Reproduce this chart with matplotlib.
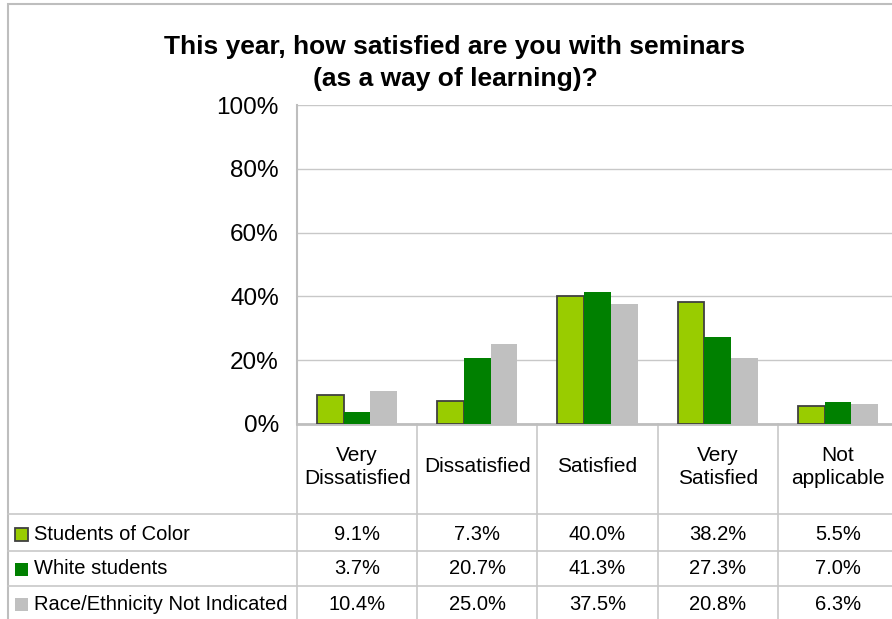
import numpy as np
import matplotlib.pyplot as plt
import matplotlib.transforms as mtransforms
from matplotlib.patches import Rectangle
from matplotlib.lines import Line2D

plt.rcParams['font.family'] = ['Liberation Sans', 'DejaVu Sans']

# Dữ liệu
categories = ["Very\nDissatisfied", "Dissatisfied", "Satisfied", "Very\nSatisfied", "Not\napplicable"]
series_names = ["Students of Color", "White students", "Race/Ethnicity Not Indicated"]
students_of_color = [9.1, 7.3, 40.0, 38.2, 5.5]
white_students = [3.7, 20.7, 41.3, 27.3, 7.0]
not_indicated = [10.4, 25.0, 37.5, 20.8, 6.3]
y_ticks = [0, 20, 40, 60, 80, 100]

colors = ["#99CC00", "#008000", "#C0C0C0"]
edges = ["#404040", "none", "none"]
W, H = 892, 619


def fx(px):
  return px / W


def fy(py):
  return 1 - py / H


fig = plt.figure(figsize=(W / 100, H / 100), dpi=100)

# Khung ngoài
fig.add_artist(Rectangle((fx(8), fy(640)), fx(900 - 8), fy(4) - fy(640),
                         transform=fig.transFigure, fill=False, edgecolor="#BEBEBE", lw=1.5))

# Trục chính
ax = fig.add_axes([fx(297), fy(424), fx(898 - 297), fy(105) - fy(424)])
x = np.arange(len(categories))
bw = 0.222
all_series = [students_of_color, white_students, not_indicated]
for i, vals in enumerate(all_series):
  ax.bar(x + (i - 1) * bw, vals, bw, color=colors[i], edgecolor=edges[i],
         linewidth=1.3 if i == 0 else 0, zorder=3)

ax.set_xlim(-0.5, len(categories) - 0.5)
ax.set_ylim(0, 100)
ax.set_yticks(y_ticks)
ax.set_yticklabels([f"{t}%" for t in y_ticks], fontsize=17.5)
ax.tick_params(axis='y', length=0, pad=13)
ax.set_xticks([])
ax.grid(axis='y', color="#C8C8C8", lw=1, zorder=0)
for s in ["top", "right"]:
  ax.spines[s].set_visible(False)
ax.spines["left"].set_color("#BEBEBE")
ax.spines["left"].set_linewidth(1.5)
ax.spines["bottom"].set_color("#BEBEBE")
ax.spines["bottom"].set_linewidth(2)

# Tiêu đề
fig.text(fx(455), fy(63), "This year, how satisfied are you with seminars\n(as a way of learning)?",
         ha="center", va="center", fontsize=19, fontweight="bold", linespacing=1.42)

# Bảng dữ liệu
tr = mtransforms.blended_transform_factory(ax.transData, fig.transFigure)
grid_c = "#C8C8C8"
row_lines = [514, 551, 586]
for ry in row_lines:
  fig.add_artist(Line2D([fx(8), fx(900)], [fy(ry), fy(ry)], transform=fig.transFigure,
                        color=grid_c, lw=1.2))
for b in np.arange(len(categories) + 1) - 0.5:
  ax.add_artist(Line2D([b, b], [fy(424), fy(640)], transform=tr, color=grid_c,
                       lw=1.2, clip_on=False))

for i, c in enumerate(categories):
  ax.text(i, fy(467), c, transform=tr, ha="center", va="center", fontsize=15,
          linespacing=1.3, clip_on=False)

row_y = [534, 569, 604]
for r, vals in enumerate(all_series):
  for i, v in enumerate(vals):
    ax.text(i, fy(row_y[r]), f"{v:.1f}%", transform=tr, ha="center", va="center",
            fontsize=14.5, clip_on=False)
  fig.add_artist(Rectangle((fx(15), fy(row_y[r] + 6.5)), fx(13), fy(0) - fy(13),
                           transform=fig.transFigure, facecolor=colors[r],
                           edgecolor=edges[r], lw=1.3 if r == 0 else 0))
  fig.text(fx(34), fy(row_y[r]), series_names[r], ha="left", va="center", fontsize=14.5)

fig.savefig("out.png", dpi=100)
